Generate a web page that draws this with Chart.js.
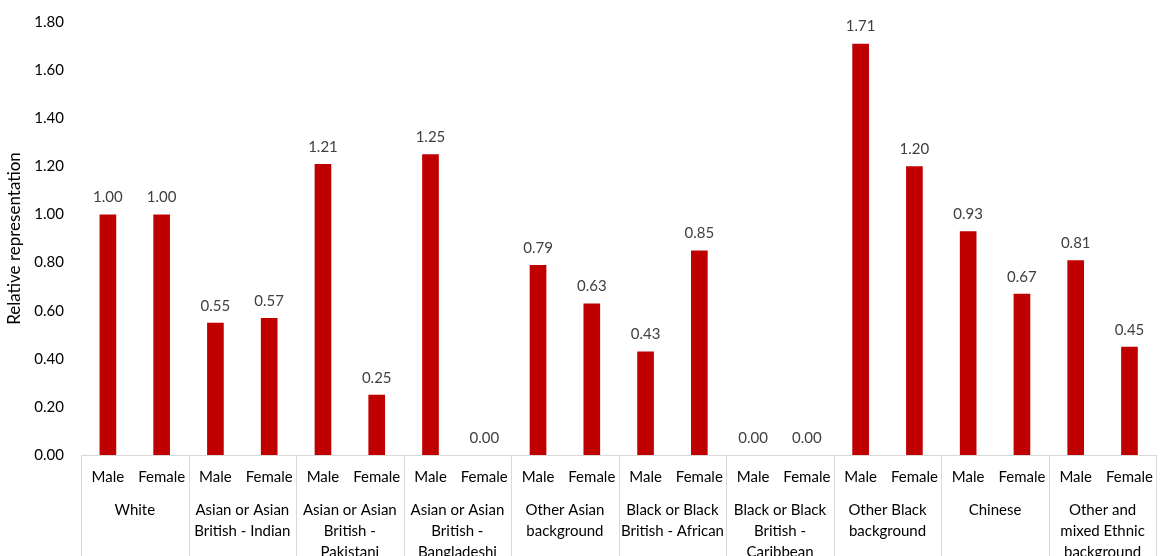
<!DOCTYPE html>
<html>
<head>
<meta charset="utf-8">
<script src="https://cdn.jsdelivr.net/npm/chart.js@4"></script>
<style>
    body { margin: 0; background: #fff; }
</style>
</head>
<body>
<canvas id="chart" width="1166" height="556"></canvas>
<script>
// grupos etnicos y sexos
const groups = [
    ['White'],
    ['Asian or Asian', 'British - Indian'],
    ['Asian or Asian', 'British -', 'Pakistani'],
    ['Asian or Asian', 'British -', 'Bangladeshi'],
    ['Other Asian', 'background'],
    ['Black or Black', 'British - African'],
    ['Black or Black', 'British -', 'Caribbean'],
    ['Other Black', 'background'],
    ['Chinese'],
    ['Other and', 'mixed Ethnic', 'background']
]
const sexes = ['Male', 'Female']
const maleValues = [1.00, 0.55, 1.21, 1.25, 0.79, 0.43, 0.00, 1.71, 0.93, 0.81]
const femaleValues = [1.00, 0.57, 0.25, 0.00, 0.63, 0.85, 0.00, 1.20, 0.67, 0.45]
const yTicks = [0, 0.2, 0.4, 0.6, 0.8, 1.0, 1.2, 1.4, 1.6, 1.8]

const font = 'Lato'
const lineColor = '#d9d9d9'

// una barra por sexo dentro de cada grupo
const labels = []
const values = []
groups.forEach((g, i) => {
    labels.push(sexes[0], sexes[1])
    values.push(maleValues[i], femaleValues[i])
})

// etiquetas de valor encima de cada barra
const valueLabels = {
    id: 'valueLabels',
    afterDatasetsDraw: chart => {
        const ctx = chart.ctx
        ctx.save()
        ctx.font = '15px ' + font
        ctx.fillStyle = '#404040'
        ctx.textAlign = 'center'
        ctx.textBaseline = 'middle'
        chart.getDatasetMeta(0).data.forEach((bar, i) => {
            ctx.fillText(values[i].toFixed(2), bar.x, bar.y - 17)
        })
        ctx.restore()
    }
}

// segundo nivel del eje x: nombres de grupo y separadores
const groupAxis = {
    id: 'groupAxis',
    afterDraw: chart => {
        const ctx = chart.ctx
        const x = chart.scales.x
        const area = chart.chartArea
        const half = (x.getPixelForValue(1) - x.getPixelForValue(0)) / 2
        ctx.save()
        ctx.strokeStyle = lineColor
        ctx.lineWidth = 1
        for (let i = 0; i <= groups.length; i++) {
            const px = Math.round(x.getPixelForValue(i * 2) - half) + 0.5
            ctx.beginPath()
            ctx.moveTo(px, area.bottom)
            ctx.lineTo(px, chart.height)
            ctx.stroke()
        }
        ctx.font = '15px ' + font
        ctx.fillStyle = '#000'
        ctx.textAlign = 'center'
        ctx.textBaseline = 'middle'
        groups.forEach((g, i) => {
            const cx = (x.getPixelForValue(i * 2) + x.getPixelForValue(i * 2 + 1)) / 2
            g.forEach((line, j) => ctx.fillText(line, cx, 510 + j * 21))
        })
        ctx.restore()
    }
}

new Chart('chart', {
    type: 'bar',
    data: {
        labels: labels,
        datasets: [{
            data: values,
            backgroundColor: '#c00000',
            categoryPercentage: 1,
            barPercentage: 0.31
        }]
    },
    options: {
        responsive: false,
        animation: false,
        layout: { padding: { top: 22, right: 1 } },
        plugins: {
            legend: { display: false },
            tooltip: { enabled: false }
        },
        scales: {
            x: {
                grid: { display: false, drawTicks: false },
                border: { color: lineColor },
                ticks: { color: '#000', font: { family: font, size: 15 }, padding: 13, maxRotation: 0, autoSkip: false },
                afterFit: s => { s.height = 101 }
            },
            y: {
                min: 0,
                max: 1.8,
                afterBuildTicks: s => { s.ticks = yTicks.map(v => ({ value: v })) },
                grid: { display: false, drawTicks: false },
                border: { display: false },
                ticks: {
                    color: '#000',
                    font: { family: font, size: 15 },
                    padding: 17,
                    callback: v => v.toFixed(2)
                },
                title: {
                    display: true,
                    text: 'Relative representation',
                    color: '#000',
                    font: { family: font, size: 17 },
                    padding: { top: 4, bottom: 0 }
                },
                afterFit: s => {
                    s.width = 81
                    s.paddingTop = 0
                    s.paddingBottom = 0
                }
            }
        }
    },
    plugins: [valueLabels, groupAxis]
})
</script>
</body>
</html>
